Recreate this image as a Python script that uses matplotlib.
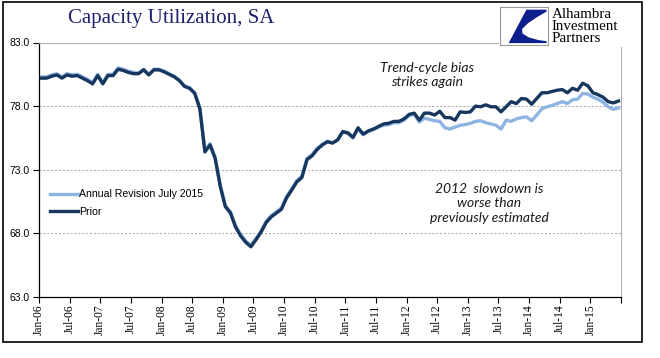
import matplotlib
matplotlib.use("Agg")
import matplotlib.pyplot as plt
from matplotlib.patches import Rectangle, Polygon
import numpy as np

# Capacity utilization, monthly Jan-06 .. Jun-15
prior = [
    80.2, 80.2, 80.35, 80.45, 80.2, 80.45, 80.35, 80.4, 80.2, 80.0, 79.75, 80.4,      # 2006
    79.75, 80.4, 80.4, 80.9, 80.8, 80.65, 80.55, 80.55, 80.85, 80.45, 80.85, 80.85,   # 2007
    80.7, 80.5, 80.3, 80.0, 79.55, 79.4, 79.0, 77.8, 74.4, 74.95, 73.9, 71.7,         # 2008
    70.1, 69.6, 68.5, 67.8, 67.3, 66.95, 67.5, 68.1, 68.85, 69.3, 69.6, 69.9,         # 2009
    70.8, 71.4, 72.05, 72.4, 73.8, 74.1, 74.6, 74.95, 75.2, 75.1, 75.35, 76.0,        # 2010
    75.9, 75.55, 76.3, 75.8, 76.05, 76.2, 76.4, 76.6, 76.65, 76.8, 76.8, 77.0,        # 2011
    77.35, 77.45, 76.9, 77.45, 77.45, 77.3, 77.6, 77.1, 77.1, 76.9, 77.55, 77.5,      # 2012
    77.55, 78.0, 77.95, 78.1, 77.95, 77.95, 77.55, 77.95, 78.35, 78.2, 78.6, 78.55,   # 2013
    78.15, 78.6, 79.05, 79.05, 79.15, 79.25, 79.3, 79.05, 79.4, 79.25, 79.8, 79.6,    # 2014
    79.05, 78.9, 78.7, 78.35, 78.25, 78.4,                                            # 2015
]
revision = [
    80.3, 80.3, 80.45, 80.55, 80.3, 80.55, 80.45, 80.5, 80.3, 80.1, 79.85, 80.5,
    79.85, 80.5, 80.5, 81.0, 80.9, 80.75, 80.65, 80.6, 80.9, 80.5, 80.9, 80.9,
    80.75, 80.55, 80.35, 80.05, 79.6, 79.45, 79.05, 77.9, 74.5, 75.05, 74.0, 71.8,
    70.2, 69.7, 68.6, 67.9, 67.4, 67.05, 67.6, 68.2, 68.95, 69.4, 69.7, 70.0,
    70.9, 71.5, 72.15, 72.5, 73.9, 74.2, 74.7, 75.0, 75.25, 75.1, 75.35, 75.95,
    75.85, 75.5, 76.2, 75.75, 76.0, 76.15, 76.35, 76.5, 76.55, 76.7, 76.7, 76.9,
    77.25, 77.35, 76.75, 77.05, 76.95, 76.85, 76.8, 76.3, 76.2, 76.35, 76.5, 76.55,
    76.65, 76.8, 76.85, 76.7, 76.6, 76.5, 76.2, 76.9, 76.8, 77.0, 77.1, 77.15,
    76.85, 77.3, 77.8, 77.95, 78.05, 78.2, 78.35, 78.2, 78.5, 78.55, 79.0, 78.95,
    78.7, 78.55, 78.3, 77.95, 77.75, 77.85,
]
tick_labels = ["Jan-06", "Jul-06", "Jan-07", "Jul-07", "Jan-08", "Jul-08", "Jan-09",
               "Jul-09", "Jan-10", "Jul-10", "Jan-11", "Jul-11", "Jan-12", "Jul-12",
               "Jan-13", "Jul-13", "Jan-14", "Jul-14", "Jan-15"]
y_ticks = [63.0, 68.0, 73.0, 78.0, 83.0]

W, H = 660, 358
fig = plt.figure(figsize=(W / 100, H / 100), dpi=100)
fig.patch.set_facecolor("white")

def fx(px):
    return px / W

def fy(py):
    return 1 - py / H

ax = fig.add_axes([fx(39), fy(297), fx(621) - fx(39), fy(42.5) - fy(297)])

n = len(prior)
x = np.arange(n) + 0.5
ax.plot(x, revision, color="#8db4e2", lw=2.4, solid_joinstyle="round",
        label="Annual Revision July 2015", zorder=3)
ax.plot(x, prior, color="#17375e", lw=2.4, solid_joinstyle="round",
        label="Prior", zorder=4)

ax.set_xlim(0, n)
ax.set_ylim(63, 83)

# ticks
ax.set_xticks(np.arange(0, n + 1, 6))
ax.set_xticklabels(tick_labels + [""], rotation=90, fontsize=8.3,
                   family="Liberation Serif")
ax.set_yticks(y_ticks)
ax.set_yticklabels([f"{v:.1f}" for v in y_ticks], fontsize=7.5,
                   family="Liberation Sans")
ax.tick_params(axis="both", direction="out", length=4, width=0.8, color="black")
ax.tick_params(axis="x", pad=1.5)
ax.tick_params(axis="y", pad=3)

ax.grid(axis="y", color="#a6a6a6", linestyle=(0, (2, 2)), lw=0.7)
ax.set_axisbelow(True)
for s in ["top", "right"]:
    ax.spines[s].set_color("#b3b3b3")
    ax.spines[s].set_linewidth(0.8)
for s in ["left", "bottom"]:
    ax.spines[s].set_color("black")
    ax.spines[s].set_linewidth(0.9)

leg = ax.legend(loc="upper left", frameon=False,
                prop={"family": "Liberation Sans", "size": 7.6},
                handlelength=2.6, handletextpad=0.15, labelspacing=0.75,
                borderpad=0)
leg.set_bbox_to_anchor((fx(45), fy(184)), transform=fig.transFigure)

# title
fig.text(fx(171), fy(18), "Capacity Utilization, SA", ha="center", va="center",
         fontsize=15, family="Liberation Serif", color="#1f1f6e")

# annotations
fig.text(fx(427), fy(75), "Trend-cycle bias\nstrikes again", ha="center",
         va="center", fontsize=10, style="italic", family="Lato",
         color="#1a1a1a", linespacing=1.25)
fig.text(fx(489), fy(203), "2012  slowdown is\nworse than\npreviously estimated",
         ha="center", va="center", fontsize=10, style="italic", family="Lato",
         color="#1a1a1a", linespacing=1.25)

# logo area
fig.patches.append(Rectangle((fx(499), fy(47)), fx(626) - fx(499), fy(4) - fy(47),
                             transform=fig.transFigure, facecolor="white",
                             edgecolor="none", zorder=5))
lax = fig.add_axes([fx(500), fy(45), fx(548) - fx(500), fy(7) - fy(45)], zorder=6)
lax.set_xlim(0, 1)
lax.set_ylim(0, 1)
lax.set_xticks([])
lax.set_yticks([])
for s in lax.spines.values():
    s.set_color("#9a9a9a")
    s.set_linewidth(0.8)
logo_shape = [(0.55, 0.93), (0.97, 0.93), (0.97, 0.88), (0.78, 0.74), (0.58, 0.57),
              (0.46, 0.42), (0.47, 0.30), (0.6, 0.2), (0.8, 0.13), (0.97, 0.1),
              (0.97, 0.05), (0.18, 0.05)]
lax.add_patch(Polygon(logo_shape, closed=True, facecolor="#0d1f8c", edgecolor="none"))

# logo text, bottom-aligned on baselines to keep lines apart
for i, word in enumerate(["Alhambra", "Investment", "Partners"]):
    fig.text(fx(552), fy(17.5 + 12.5 * i), word, ha="left", va="baseline",
             fontsize=10.8, family="Liberation Serif", color="black", zorder=7)

# outer frame
fig.patches.append(Rectangle((fx(2.5), fy(342)), fx(642) - fx(2.5), fy(2) - fy(342),
                             transform=fig.transFigure, facecolor="none",
                             edgecolor="black", lw=1.2, zorder=8))

fig.savefig("out.png", dpi=100)
